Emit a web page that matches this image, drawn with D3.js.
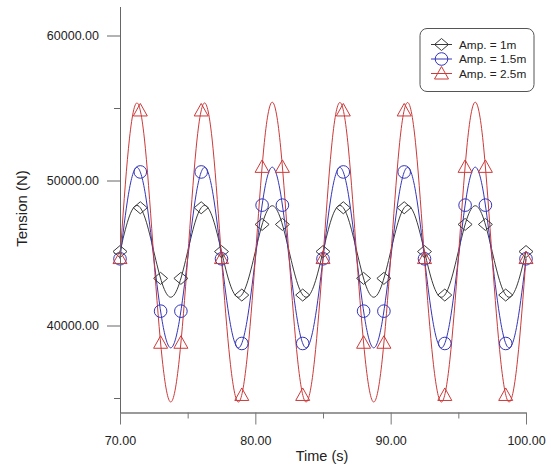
<!DOCTYPE html>
<html>
<head>
<meta charset="utf-8">
<script src="https://cdn.jsdelivr.net/npm/d3@7"></script>
<style>
  body { margin: 0; background: #fff; }
  text { font-family: "Liberation Sans", Arial, sans-serif; fill: #222; }
</style>
</head>
<body>
<svg id="chart" width="551" height="471"></svg>
<script>
// Curve points, every 1/8 of a period
const lineTimes = [
  70, 70.625, 71.25, 71.875, 72.5, 73.125, 73.75, 74.375,
  75, 75.625, 76.25, 76.875, 77.5, 78.125, 78.75, 79.375,
  80, 80.625, 81.25, 81.875, 82.5, 83.125, 83.75, 84.375,
  85, 85.625, 86.25, 86.875, 87.5, 88.125, 88.75, 89.375,
  90, 90.625, 91.25, 91.875, 92.5, 93.125, 93.75, 94.375,
  95, 95.625, 96.25, 96.875, 97.5, 98.125, 98.75, 99.375,
  100];
const amp1Line = [
  45100, 47350, 48280, 47350, 45100, 42870, 41950, 42870,
  45100, 47350, 48280, 47350, 45100, 42870, 41950, 42870,
  45100, 47340, 48260, 47340, 45100, 42870, 41950, 42870,
  45100, 47350, 48280, 47350, 45100, 42870, 41950, 42870,
  45100, 47350, 48280, 47350, 45100, 42870, 41950, 42870,
  45100, 47340, 48260, 47340, 45100, 42870, 41950, 42870,
  45100];
const amp15Line = [
  44600, 49050, 50900, 49050, 44600, 40260, 38460, 40260,
  44600, 49050, 50900, 49050, 44600, 40260, 38460, 40260,
  44600, 49060, 50920, 49060, 44600, 40260, 38460, 40260,
  44600, 49050, 50900, 49050, 44600, 40260, 38460, 40260,
  44600, 49050, 50900, 49050, 44600, 40260, 38460, 40260,
  44600, 49060, 50920, 49060, 44600, 40260, 38460, 40260,
  44600];
const amp25Line = [
  44650, 52220, 55350, 52220, 44650, 37630, 34720, 37630,
  44650, 52220, 55350, 52220, 44650, 37630, 34720, 37630,
  44650, 52250, 55400, 52250, 44650, 37630, 34720, 37630,
  44650, 52240, 55380, 52240, 44650, 37630, 34720, 37630,
  44650, 52240, 55380, 52240, 44650, 37630, 34720, 37630,
  44650, 52250, 55400, 52250, 44650, 37630, 34720, 37630,
  44650];

// Marker points
const markTimes = [70, 71.5, 73, 74.5, 76, 77.5, 79, 80.5, 82, 83.5, 85,
  86.5, 88, 89.5, 91, 92.5, 94, 95.5, 97, 98.5, 100];
const amp1Marks = [45100, 48120, 43250, 43250, 48120, 45100, 42100, 46970, 46970, 42100, 45100,
  48120, 43250, 43250, 48120, 45100, 42100, 46970, 46970, 42100, 45100];
const amp15Marks = [44600, 50590, 40990, 40990, 50590, 44600, 38760, 48300, 48300, 38760, 44600,
  50590, 40990, 40990, 50590, 44600, 38760, 48300, 48300, 38760, 44600];
const amp25Marks = [44650, 54830, 38810, 38810, 54830, 44650, 35210, 50940, 50940, 35210, 44650,
  54830, 38810, 38810, 54830, 44650, 35210, 50940, 50940, 35210, 44650];

const xMajor = [70, 80, 90, 100];
const xMinor = [75, 85, 95];
const yMajor = [40000, 50000, 60000];
const yMinor = [35000, 45000, 55000];

const seriesNames = ["Amp. = 1m", "Amp. = 1.5m", "Amp. = 2.5m"];

const series = [
  { name: seriesNames[0], line: amp1Line, marks: amp1Marks, color: "#3a3a3a", shape: "diamond" },
  { name: seriesNames[1], line: amp15Line, marks: amp15Marks, color: "#3434b8", shape: "circle" },
  { name: seriesNames[2], line: amp25Line, marks: amp25Marks, color: "#cc3a3a", shape: "triangle" }
];

const svg = d3.select("#chart");
svg.append("rect").attr("width", 551).attr("height", 471).attr("fill", "#fff");

const x = d3.scaleLinear().domain([70, 100]).range([120, 526]);
const y = d3.scaleLinear().domain([34000, 62000]).range([412.5, 6.5]);

// marker path around a point
function markerPath(shape, cx, cy) {
  if (shape === "diamond") {
    return `M${cx - 7},${cy}L${cx},${cy - 6}L${cx + 7},${cy}L${cx},${cy + 6}Z`;
  }
  if (shape === "triangle") {
    return `M${cx},${cy - 7}L${cx + 7},${cy + 5.5}L${cx - 7},${cy + 5.5}Z`;
  }
  const r = 6.3;
  return `M${cx - r},${cy}A${r},${r} 0 1,0 ${cx + r},${cy}A${r},${r} 0 1,0 ${cx - r},${cy}Z`;
}

const line = d3.line()
  .x((d) => x(d.t))
  .y((d) => y(d.v))
  .curve(d3.curveNatural);

const plot = svg.append("g");

series.forEach((s) => {
  plot.append("path")
    .datum(lineTimes.map((t, i) => ({ t, v: s.line[i] })))
    .attr("d", line)
    .attr("fill", "none")
    .attr("stroke", s.color)
    .attr("stroke-width", 1);
});

series.forEach((s) => {
  plot.selectAll(null)
    .data(markTimes.map((t, i) => ({ t, v: s.marks[i] })))
    .enter()
    .append("path")
    .attr("d", (d) => markerPath(s.shape, x(d.t), y(d.v)))
    .attr("fill", "none")
    .attr("stroke", s.color)
    .attr("stroke-width", 1);
});

// X axis
const xAxis = svg.append("g")
  .attr("transform", "translate(0,412.5)")
  .call(d3.axisBottom(x).tickValues(xMajor).tickSize(12).tickSizeOuter(0)
    .tickPadding(12).tickFormat(d3.format(".2f")));
xAxis.select(".domain").attr("stroke", "#9a9a9a").attr("stroke-width", 2);
xAxis.selectAll(".tick line").attr("stroke", "#777");
xAxis.selectAll("text").style("font-size", "12.5px").attr("fill", "#222");

const xMinorAxis = svg.append("g")
  .attr("transform", "translate(0,412.5)")
  .call(d3.axisBottom(x).tickValues(xMinor).tickSize(6).tickFormat(""));
xMinorAxis.select(".domain").remove();
xMinorAxis.selectAll(".tick line").attr("stroke", "#777");

// Y axis
const yAxis = svg.append("g")
  .attr("transform", "translate(120,0)")
  .call(d3.axisLeft(y).tickValues(yMajor).tickSize(13).tickSizeOuter(0)
    .tickPadding(8).tickFormat(d3.format(".2f")));
yAxis.select(".domain").attr("stroke", "#666");
yAxis.selectAll(".tick line").attr("stroke", "#666");
yAxis.selectAll("text").style("font-size", "12.5px").attr("fill", "#222");

const yMinorAxis = svg.append("g")
  .attr("transform", "translate(120,0)")
  .call(d3.axisLeft(y).tickValues(yMinor).tickSize(6).tickFormat(""));
yMinorAxis.select(".domain").remove();
yMinorAxis.selectAll(".tick line").attr("stroke", "#666");

// Axis labels
svg.append("text")
  .attr("x", 322)
  .attr("y", 461)
  .attr("text-anchor", "middle")
  .style("font-size", "14.5px")
  .text("Time (s)");

svg.append("text")
  .attr("transform", "translate(27,208.5) rotate(-90)")
  .attr("text-anchor", "middle")
  .style("font-size", "15px")
  .text("Tension (N)");

// Legend
const legend = svg.append("g");
legend.append("rect")
  .attr("x", 420).attr("y", 28.5)
  .attr("width", 114).attr("height", 63)
  .attr("rx", 7)
  .attr("fill", "#fff")
  .attr("stroke", "#555");

series.forEach((s, i) => {
  const cy = 44.5 + i * 14.5;
  legend.append("line")
    .attr("x1", 431).attr("x2", 452)
    .attr("y1", cy).attr("y2", cy)
    .attr("stroke", s.color);
  legend.append("path")
    .attr("d", markerPath(s.shape, 441.5, cy))
    .attr("fill", "none")
    .attr("stroke", s.color);
  legend.append("text")
    .attr("x", 459)
    .attr("y", cy + 4.2)
    .style("font-size", "11.8px")
    .text(s.name);
});
</script>
</body>
</html>
